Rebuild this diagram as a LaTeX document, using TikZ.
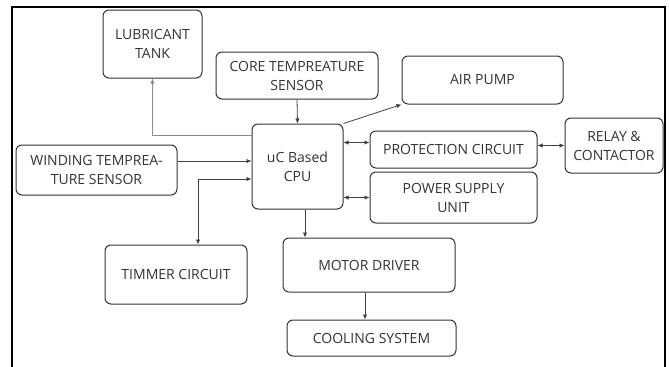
\documentclass[tikz,border=0pt]{standalone}
\usepackage{fontspec}
\setmainfont{Open Sans}
\usepackage{tikz}
\usetikzlibrary{arrows.meta}

\begin{document}
\begin{tikzpicture}[x=1pt, y=1pt,
  box/.style={draw=black!80, line width=1pt, rounded corners=6pt, align=center,
              font=\fontsize{14}{19}\selectfont, text=black!80, inner sep=2pt},
  arr/.style={draw=black!75, line width=0.8pt, -{Latex[length=5pt,width=4.5pt]}},
  dbl/.style={draw=black!75, line width=0.8pt, {Latex[length=5pt,width=4.5pt]}-{Latex[length=5pt,width=4.5pt]}},
  frame/.style={line width=1.6pt}]
  \useasboundingbox (0,0) rectangle (670,-367);
  \draw[frame] (12,-367) |- (665,-7) -- (665,-367);
  \node[box, minimum width=99pt, minimum height=68pt] (lube) at (152.5,-44) {LUBRICANT\\TANK};
  \node[box, minimum width=162pt, minimum height=47pt] (core) at (297,-75.5) {CORE TEMPREATURE\\SENSOR};
  \node[box, minimum width=161pt, minimum height=48pt] (air) at (482.5,-80) {AIR PUMP};
  \node[box, minimum width=91pt, minimum height=85pt] (cpu) at (297.5,-166.5) {uC Based\\CPU};
  \node[box, minimum width=161pt, minimum height=50pt] (wind) at (96.5,-170) {WINDING TEMPREA-\\TURE SENSOR};
  \node[box, minimum width=167pt, minimum height=37pt] (prot) at (453.5,-149.5) {PROTECTION CIRCUIT};
  \node[box, minimum width=98pt, minimum height=55pt] (relay) at (614,-145.5) {RELAY \&\\CONTACTOR};
  \node[box, minimum width=167pt, minimum height=51pt] (psu) at (453.5,-197.5) {POWER SUPPLY\\UNIT};
  \node[box, minimum width=142pt, minimum height=59pt] (timer) at (176,-274.5) {TIMMER CIRCUIT};
  \node[box, minimum width=172pt, minimum height=54pt] (motor) at (369,-265) {MOTOR DRIVER};
  \node[box, minimum width=169pt, minimum height=36pt] (cool) at (371.5,-338) {COOLING SYSTEM};
  \draw[arr, draw=black!45] ([yshift=31.5pt]cpu.west) -| (lube.south);
  \draw[arr] (core.south) -- (cpu.north);
  \draw[arr] (cpu.north east) -- (air.south west);
  \draw[dbl] ([yshift=24pt]cpu.east) -- ([yshift=24pt]cpu.east -| prot.west);
  \draw[dbl] (prot.east |- relay.west) -- (relay.west);
  \draw[dbl] (cpu.east |- psu.west) -- (psu.west);
  \draw[arr] ([yshift=5.5pt]cpu.west -| wind.east) -- ([yshift=5.5pt]cpu.west);
  \draw[dbl] ([yshift=-12.5pt]cpu.west) -| ([xshift=22pt]timer.north);
  \draw[arr] ([xshift=7.5pt]cpu.south) -- ([xshift=7.5pt]cpu.south |- motor.north);
  \draw[arr] ([xshift=-4pt]motor.south) -- ([xshift=-4pt]motor.south |- cool.north);
\end{tikzpicture}
\end{document}
